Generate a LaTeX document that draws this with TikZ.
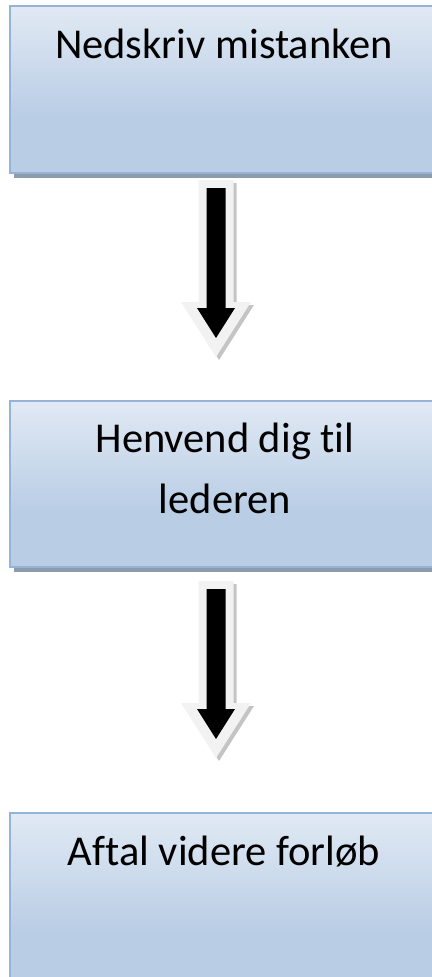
\documentclass[tikz,border=0pt]{standalone}
\usepackage{fontspec}
\setmainfont{Carlito}[Ligatures=NoCommon]
\usetikzlibrary{shadows}
\definecolor{boxblue}{HTML}{B9CDE5}
\definecolor{boxborder}{HTML}{95B3D7}
\definecolor{boxshadow}{HTML}{8E9BAA}
\definecolor{arrowrim}{HTML}{F2F2F2}
\definecolor{arrowshadow}{HTML}{C4C4C4}
\pgfdeclareverticalshading{boxshade}{100bp}{color(0bp)=(boxblue); color(42bp)=(boxblue); color(100bp)=(white)}
\tikzset{
  stepbox/.style={rectangle, draw=boxborder, line width=2.5pt, shading=boxshade,
    minimum width=470pt, inner sep=0pt,
    drop shadow={shadow xshift=4pt, shadow yshift=-5pt, fill=boxshadow, opacity=1}},
  steptext/.style={anchor=base, inner sep=0pt, font=\fontsize{42.5}{61}\selectfont},
  arrowout/.style={fill=arrowrim},
  arrowshad/.style={fill=arrowshadow},
  arrowin/.style={fill=black}
}
\begin{document}
\begin{tikzpicture}[x=1pt,y=-1pt]
\useasboundingbox (0,0) rectangle (431,977);
% boxes
\node[stepbox, minimum height=167pt] (b1) at (245,89.5) {};
\node[stepbox, minimum height=166pt] (b2) at (245,484) {};
\node[stepbox, minimum height=180pt] (b3) at (245,903) {};
% texts
\node[steptext] (t1) at (224,58) {Nedskriv mistanken};
\node[steptext] (t2a) at (225,452) {Henvend dig til};
\node[steptext] (t2b) at (225,513) {lederen};
\node[steptext] (t3) at (224,865) {Aftal videre forløb};
% arrows
\foreach \dy/\nm in {0/a1, 401/a2}{
  \begin{scope}[yshift=-\dy pt]
    \path[arrowshad] (201.5,183) -- (236.5,183) -- (236.5,305) -- (254,305) -- (219,360) -- (184,305) -- (201.5,305) -- cycle;
    \path[arrowout] (198.5,180) -- (233.5,180) -- (233.5,302) -- (251,302) -- (216,357) -- (181,302) -- (198.5,302) -- cycle;
    \path[arrowin] (206.5,188) -- (225.5,188) -- (225.5,308) -- (235,308) -- (216,338) -- (197,308) -- (206.5,308) -- cycle;
    \coordinate (\nm) at (216,180);
  \end{scope}
}
\end{tikzpicture}
\end{document}
